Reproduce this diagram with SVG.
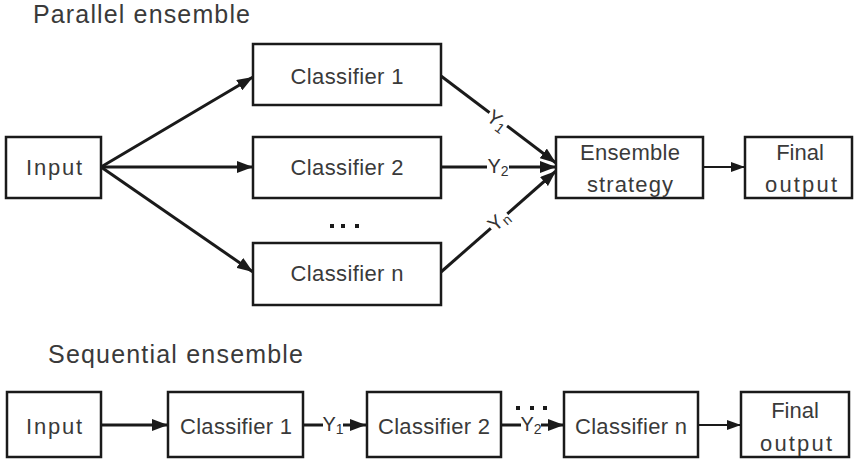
<svg xmlns="http://www.w3.org/2000/svg" width="855" height="474" viewBox="0 0 855 474">
<defs>
<style>
.box{fill:#fff;stroke:#1a1a1a;stroke-width:2.5}
.t{font-family:"Liberation Sans",Arial,sans-serif;font-size:22px;fill:#3a3a3a;text-anchor:middle;dominant-baseline:central}
.h{font-family:"Liberation Sans",Arial,sans-serif;font-size:25px;fill:#3a3a3a}
.c{stroke:#1a1a1a;stroke-width:3;fill:none}
.cs{stroke:#1a1a1a;stroke-width:2;fill:none}
.lb{font-family:"Liberation Sans",Arial,sans-serif;font-size:20px;fill:#333;text-anchor:middle;dominant-baseline:central}
.sub{font-size:14px}
.gap{fill:#fff}
.dot{fill:#1a1a1a}
</style>
<marker id="ah" viewBox="0 0 16 12" refX="16" refY="6" markerWidth="16" markerHeight="12" markerUnits="userSpaceOnUse" orient="auto">
<path d="M0,0 L16,6 L0,12 z" fill="#1a1a1a"/>
</marker>
<marker id="ahs" viewBox="0 0 14 10" refX="14" refY="5" markerWidth="14" markerHeight="10" markerUnits="userSpaceOnUse" orient="auto">
<path d="M0,0 L14,5 L0,10 z" fill="#1a1a1a"/>
</marker>
</defs>

<text class="h" x="33" y="23" textLength="217" lengthAdjust="spacing">Parallel ensemble</text>
<text class="h" x="48" y="363" textLength="255" lengthAdjust="spacing">Sequential ensemble</text>

<g id="connectors">
<line class="c" x1="101" y1="167" x2="253" y2="77" marker-end="url(#ah)"/>
<line class="c" x1="101" y1="167" x2="253" y2="167" marker-end="url(#ah)"/>
<line class="c" x1="101" y1="167" x2="253" y2="272" marker-end="url(#ah)"/>
<line class="c" x1="441" y1="76" x2="556" y2="163" marker-end="url(#ah)"/>
<line class="c" x1="441" y1="167" x2="556" y2="167" stroke-width="4" marker-end="url(#ah)"/>
<line class="c" x1="441" y1="272" x2="556" y2="171" marker-end="url(#ah)"/>
<line class="cs" x1="703" y1="167" x2="745" y2="167" marker-end="url(#ahs)"/>
<g transform="translate(497,121) rotate(37)"><rect class="gap" x="-11" y="-9" width="22" height="18"/><text class="lb" x="0" y="-1">Y<tspan class="sub" dy="5">1</tspan></text></g>
<g transform="translate(498,167)"><rect class="gap" x="-11" y="-9" width="22" height="18"/><text class="lb" x="0" y="-1">Y<tspan class="sub" dy="5">2</tspan></text></g>
<g transform="translate(499,221) rotate(-41)"><rect class="gap" x="-11" y="-9" width="22" height="18"/><text class="lb" x="0" y="-1">Y<tspan class="sub" dy="5">n</tspan></text></g>
<rect class="dot" x="330" y="224" width="4" height="4"/>
<rect class="dot" x="341" y="224" width="4" height="4"/>
<rect class="dot" x="355" y="224" width="4" height="4"/>

<line class="c" x1="101" y1="425" x2="168" y2="425" marker-end="url(#ah)"/>
<line class="c" x1="303" y1="425" x2="366" y2="425" marker-end="url(#ah)"/>
<g transform="translate(333,425)"><rect class="gap" x="-10" y="-9" width="20" height="18"/><text class="lb" x="0" y="-1">Y<tspan class="sub" dy="5">1</tspan></text></g>
<line class="c" x1="501" y1="425" x2="564" y2="425" marker-end="url(#ah)"/>
<g transform="translate(531,425)"><rect class="gap" x="-10" y="-9" width="20" height="18"/><text class="lb" x="0" y="-1">Y<tspan class="sub" dy="5">2</tspan></text></g>
<rect class="dot" x="516" y="406" width="4" height="4"/>
<rect class="dot" x="530" y="406" width="4" height="4"/>
<rect class="dot" x="543" y="406" width="4" height="4"/>
<line class="cs" x1="698" y1="425" x2="741" y2="425" marker-end="url(#ahs)"/>
</g>

<g id="p-input"><rect class="box" x="6" y="137" width="95" height="61"/><text class="t" x="54" y="167" textLength="56" lengthAdjust="spacing">Input</text></g>
<g id="p-c1"><rect class="box" x="253" y="44" width="188" height="61"/><text class="t" x="347" y="76" textLength="113" lengthAdjust="spacing">Classifier 1</text></g>
<g id="p-c2"><rect class="box" x="253" y="137" width="188" height="61"/><text class="t" x="347" y="167" textLength="113" lengthAdjust="spacing">Classifier 2</text></g>
<g id="p-cn"><rect class="box" x="253" y="243" width="188" height="62"/><text class="t" x="347" y="273" textLength="113" lengthAdjust="spacing">Classifier n</text></g>
<g id="p-ens"><rect class="box" x="556" y="137" width="147" height="61"/><text class="t" x="630" y="152" textLength="100" lengthAdjust="spacing">Ensemble</text><text class="t" x="630" y="184" textLength="86" lengthAdjust="spacing">strategy</text></g>
<g id="p-final"><rect class="box" x="745" y="137" width="107" height="61"/><text class="t" x="800" y="152">Final</text><text class="t" x="801" y="184" textLength="72" lengthAdjust="spacing">output</text></g>

<g id="s-input"><rect class="box" x="7" y="392" width="94" height="65"/><text class="t" x="54" y="426" textLength="56" lengthAdjust="spacing">Input</text></g>
<g id="s-c1"><rect class="box" x="168" y="392" width="135" height="65"/><text class="t" x="236" y="426" textLength="112" lengthAdjust="spacing">Classifier 1</text></g>
<g id="s-c2"><rect class="box" x="367" y="392" width="134" height="65"/><text class="t" x="434" y="426" textLength="112" lengthAdjust="spacing">Classifier 2</text></g>
<g id="s-cn"><rect class="box" x="564" y="392" width="134" height="65"/><text class="t" x="631" y="426" textLength="112" lengthAdjust="spacing">Classifier n</text></g>
<g id="s-final"><rect class="box" x="741" y="392" width="108" height="65"/><text class="t" x="795" y="410">Final</text><text class="t" x="796" y="443" textLength="72" lengthAdjust="spacing">output</text></g>
</svg>
